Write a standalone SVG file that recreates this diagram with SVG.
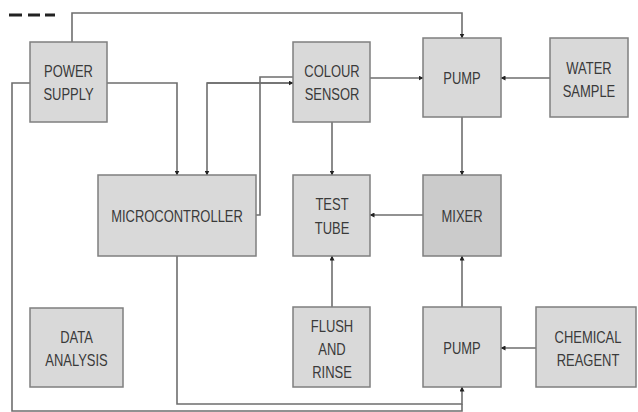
<svg xmlns="http://www.w3.org/2000/svg" width="638" height="412" viewBox="0 0 638 412">
<defs>
<marker id="ah" viewBox="0 0 10 10" refX="9" refY="5" markerWidth="5" markerHeight="5" orient="auto" markerUnits="userSpaceOnUse">
<path d="M0,0 L10,5 L0,10 z" fill="#222"/>
</marker>
</defs>
<style>
.box{fill:#d9d9d9;stroke:#7f7f7f;stroke-width:1.5}
.dark{fill:#cbcbcb}
.lbl{font-family:"Liberation Sans",Arial,sans-serif;font-size:16px;fill:#3a3a3a;text-anchor:middle}
.ln{fill:none;stroke:#6e6e6e;stroke-width:1.6}
.arr{marker-end:url(#ah)}
</style>
<rect width="638" height="412" fill="#ffffff"/>
<path d="M9,15 H22 M28,15 H40 M45,15 H55" stroke="#222" stroke-width="3" fill="none"/>
<g id="connectors">
<path class="ln arr" d="M72,42 V13 H462 V38"/>
<path class="ln arr" d="M107,83 H177 V175"/>
<path class="ln arr" d="M293,83 H207 V175"/>
<path class="ln arr" d="M207,83 H293"/>
<path class="ln" d="M256,215 H260 V77 H293"/>
<path class="ln arr" d="M370,78 H423"/>
<path class="ln arr" d="M550,78 H501"/>
<path class="ln arr" d="M462,117 V175"/>
<path class="ln arr" d="M332,122 V175"/>
<path class="ln arr" d="M423,215 H370"/>
<path class="ln arr" d="M332,307 V256"/>
<path class="ln arr" d="M462,307 V256"/>
<path class="ln arr" d="M536,348 H501"/>
<path class="ln arr" d="M177,256 V404 H462 V387"/>
<path class="ln" d="M30,83 H12 V411 H462 V404"/>
</g>
<g id="power-supply">
<rect class="box" x="30" y="42" width="77" height="80"/>
<text class="lbl" transform="translate(68.5,77) scale(0.81,1)">POWER</text>
<text class="lbl" transform="translate(68.5,100) scale(0.81,1)">SUPPLY</text>
</g>
<g id="colour-sensor">
<rect class="box" x="293" y="42" width="77" height="80"/>
<text class="lbl" transform="translate(332,77) scale(0.81,1)">COLOUR</text>
<text class="lbl" transform="translate(332,100) scale(0.81,1)">SENSOR</text>
</g>
<g id="pump-top">
<rect class="box" x="423" y="38" width="78" height="79"/>
<text class="lbl" transform="translate(462,84) scale(0.81,1)">PUMP</text>
</g>
<g id="water-sample">
<rect class="box" x="550" y="38" width="78" height="79"/>
<text class="lbl" transform="translate(589,74) scale(0.81,1)">WATER</text>
<text class="lbl" transform="translate(589,97) scale(0.81,1)">SAMPLE</text>
</g>
<g id="microcontroller">
<rect class="box" x="98" y="175" width="158" height="81"/>
<text class="lbl" transform="translate(177,222) scale(0.81,1)">MICROCONTROLLER</text>
</g>
<g id="test-tube">
<rect class="box" x="293" y="175" width="77" height="81"/>
<text class="lbl" transform="translate(332,210) scale(0.81,1)">TEST</text>
<text class="lbl" transform="translate(332,234) scale(0.81,1)">TUBE</text>
</g>
<g id="mixer">
<rect class="box dark" x="423" y="175" width="78" height="81"/>
<text class="lbl" transform="translate(462,222) scale(0.81,1)">MIXER</text>
</g>
<g id="data-analysis">
<rect class="box" x="30" y="308" width="93" height="79"/>
<text class="lbl" transform="translate(76.5,343) scale(0.81,1)">DATA</text>
<text class="lbl" transform="translate(76.5,366) scale(0.81,1)">ANALYSIS</text>
</g>
<g id="flush-and-rinse">
<rect class="box" x="293" y="307" width="77" height="80"/>
<text class="lbl" transform="translate(332,332) scale(0.81,1)">FLUSH</text>
<text class="lbl" transform="translate(332,355) scale(0.81,1)">AND</text>
<text class="lbl" transform="translate(332,378) scale(0.81,1)">RINSE</text>
</g>
<g id="pump-bottom">
<rect class="box" x="423" y="307" width="78" height="80"/>
<text class="lbl" transform="translate(462,354) scale(0.81,1)">PUMP</text>
</g>
<g id="chemical-reagent">
<rect class="box" x="536" y="307" width="100" height="80"/>
<text class="lbl" transform="translate(588,343) scale(0.81,1)">CHEMICAL</text>
<text class="lbl" transform="translate(588,366) scale(0.81,1)">REAGENT</text>
</g>
</svg>
